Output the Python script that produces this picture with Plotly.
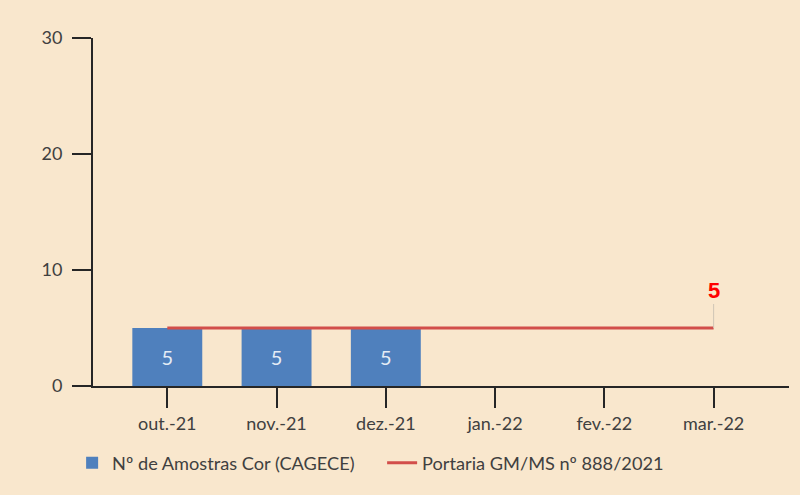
import plotly.graph_objects as go

categories = ["out.-21", "nov.-21", "dez.-21", "jan.-22", "fev.-22", "mar.-22"]
amostras = [5, 5, 5, None, None, None]
portaria = [5, 5, 5, 5, 5, 5]
y_ticks = [0, 10, 20, 30]

bg = "#F9E7CD"
axis_col = "#262626"
text_col = "#404040"

fig = go.Figure()
fig.add_trace(go.Bar(
    x=list(range(len(categories))), y=amostras,
    name="Nº de Amostras Cor (CAGECE)",
    marker=dict(color="#4F80BD", line=dict(width=0)),
    width=0.64,
    text=[str(v) if v is not None else "" for v in amostras],
    textposition="inside", insidetextanchor="middle",
    textfont=dict(color="#E4ECF5", size=20, family="Lato"),
))
fig.add_trace(go.Scatter(
    x=list(range(len(categories))), y=portaria,
    name="Portaria GM/MS nº 888/2021",
    mode="lines", line=dict(color="#D24E4A", width=3),
))
fig.add_annotation(
    x=len(categories) - 1, y=portaria[-1], text="<b>5</b>",
    showarrow=True, arrowhead=0, arrowwidth=1, arrowcolor="#CFC5B5",
    ax=0, ay=-38, font=dict(color="#FF0000", size=22, family="Liberation Sans"),
)

fig.update_layout(
    width=800, height=495,
    paper_bgcolor=bg, plot_bgcolor=bg,
    margin=dict(l=93, r=11, t=38, b=109),
    font=dict(family="Lato", size=18, color=text_col),
    showlegend=True,
    legend=dict(orientation="h", x=-0.03, xanchor="left", y=-0.221, yanchor="middle",
                font=dict(size=18.2, color=text_col), bgcolor="rgba(0,0,0,0)",
                traceorder="normal", entrywidth=265, entrywidthmode="pixels"),
    bargap=0.36,
)
fig.update_xaxes(
    range=[-0.68, 5.69], tickmode="array",
    tickvals=list(range(len(categories))), ticktext=categories,
    showline=True, linecolor=axis_col, linewidth=2,
    ticks="outside", ticklen=20, tickwidth=2, tickcolor=axis_col,
    showgrid=False, zeroline=False, fixedrange=True,
)
fig.update_yaxes(
    range=[0, 30], tickmode="array", tickvals=y_ticks,
    showline=True, linecolor=axis_col, linewidth=2,
    ticks="outside", ticklen=19, tickwidth=2, tickcolor=axis_col,
    ticklabelstandoff=6,
    showgrid=False, zeroline=False, fixedrange=True,
)

fig.write_html("out.html", config={"displayModeBar": False},
               post_script="document.body.style.margin='0';")
